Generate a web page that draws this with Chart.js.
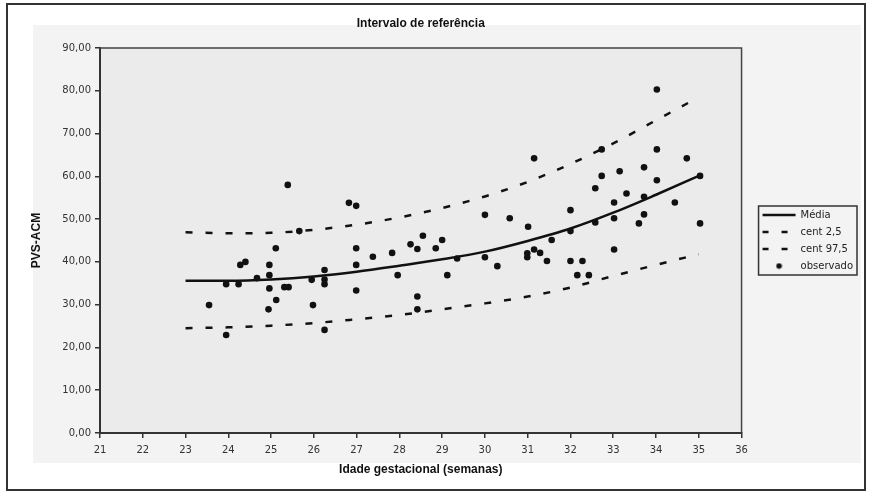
<!DOCTYPE html>
<html>
<head>
<meta charset="utf-8">
<script src="https://cdn.jsdelivr.net/npm/chart.js@4.4.1/dist/chart.umd.min.js"></script>
<style>
  html, body { margin: 0; padding: 0; background: #fff; }
  #wrap { position: absolute; left: 0; top: 0; width: 872px; height: 494px; }
</style>
</head>
<body>
<div id="wrap"><canvas id="chart" width="872" height="494"></canvas></div>
<script>
// curves (weeks 23..35)
const weeks = [23, 24, 25, 26, 27, 28, 29, 30, 31, 32, 33, 34, 35];
const media = [35.6, 35.6, 35.9, 36.6, 37.7, 39.1, 40.6, 42.4, 44.9, 47.8, 51.5, 55.7, 60.1];
const cent25 = [24.5, 24.7, 25.1, 25.7, 26.6, 27.6, 28.9, 30.3, 31.9, 34.0, 36.7, 39.3, 41.8];
const cent975 = [46.9, 46.7, 46.8, 47.5, 48.7, 50.4, 52.6, 55.3, 58.7, 62.9, 67.7, 73.1, 78.5];

// observed points
const obsWeeks = [23.55, 23.95, 23.95, 24.24, 24.28, 24.40, 24.67, 24.96, 24.96, 24.96,
  25.12, 24.94, 25.11, 25.31, 25.41, 25.39, 25.98, 26.25, 26.25, 26.25,
  26.25, 26.82, 26.99, 26.99, 26.99, 26.99, 27.38, 27.83, 27.96, 28.26,
  28.42, 28.55, 28.85, 29.00, 29.12, 28.42, 28.42, 30.00, 30.29, 30.00,
  30.58, 31.15, 31.01, 31.56, 30.99, 30.99, 31.15, 31.29, 31.45, 32.00,
  32.00, 32.00, 32.28, 32.16, 32.43, 32.58, 32.58, 32.73, 32.73, 33.02,
  33.02, 33.02, 33.15, 33.31, 33.60, 33.72, 33.72, 33.72, 34.02, 34.02,
  34.02, 34.44, 34.72, 35.03, 35.03, 25.66, 25.95, 29.35];
const obsValues = [29.9, 22.9, 34.8, 34.8, 39.3, 40.0, 36.2, 39.3, 36.9, 33.8,
  31.1, 28.9, 43.2, 34.1, 34.1, 58.0, 29.9, 24.1, 38.1, 35.9,
  34.8, 53.8, 53.1, 43.2, 39.3, 33.3, 41.2, 42.1, 36.9, 44.1,
  43.0, 46.1, 43.2, 45.1, 36.9, 31.9, 28.9, 51.0, 39.0, 41.1,
  50.2, 64.2, 48.2, 45.1, 42.0, 41.1, 42.9, 42.1, 40.2, 52.1,
  47.2, 40.2, 40.2, 36.9, 36.9, 57.2, 49.2, 60.1, 66.3, 53.9,
  50.2, 42.9, 61.2, 56.0, 49.0, 62.1, 55.2, 51.1, 80.3, 66.3,
  59.1, 53.9, 64.2, 60.1, 49.0, 47.2, 35.8, 40.8];

const seriesNames = ['Média', 'cent 2,5', 'cent 97,5', 'observado'];

function xy(xs, ys) {
  return xs.map((x, i) => ({x: x, y: ys[i]}));
}

// small dot for the legend
const dot = document.createElement('canvas');
dot.width = 7; dot.height = 7;
const dctx = dot.getContext('2d');
dctx.fillStyle = '#111';
dctx.beginPath();
dctx.arc(3.5, 3.5, 2.8, 0, Math.PI * 2);
dctx.fill();

const frame = {
  id: 'frame',
  beforeDraw(chart) {
    const ctx = chart.ctx;
    const a = chart.chartArea;
    ctx.save();
    ctx.fillStyle = '#fff';
    ctx.fillRect(0, 0, chart.width, chart.height);
    ctx.fillStyle = '#f3f3f3';
    ctx.fillRect(33, 25, 828, 438);
    ctx.fillStyle = '#ebebeb';
    ctx.fillRect(a.left, a.top, a.right - a.left, a.bottom - a.top);
    ctx.restore();
  },
  afterDraw(chart) {
    const ctx = chart.ctx;
    const a = chart.chartArea;
    ctx.save();
    // top / right edge of the plot
    ctx.strokeStyle = '#444';
    ctx.lineWidth = 1.5;
    ctx.beginPath();
    ctx.moveTo(a.left, a.top);
    ctx.lineTo(a.right, a.top);
    ctx.lineTo(a.right, a.bottom);
    ctx.stroke();
    // legend box
    const hb = chart.legend.legendHitBoxes;
    if (hb && hb.length) {
      let l = Infinity, t = Infinity, r = -Infinity, b = -Infinity;
      hb.forEach(h => {
        l = Math.min(l, h.left); t = Math.min(t, h.top);
        r = Math.max(r, h.left + h.width); b = Math.max(b, h.top + h.height);
      });
      ctx.strokeStyle = '#333';
      ctx.lineWidth = 1.5;
      ctx.strokeRect(l - 4, t - 4, r - l + 8, b - t + 8);
    }
    // outer frame
    ctx.strokeStyle = '#333';
    ctx.lineWidth = 2;
    ctx.strokeRect(7, 4, 858, 486);
    ctx.restore();
  }
};

const ctx = document.getElementById('chart');
const myChart = new Chart(ctx, {
  type: 'scatter',
  plugins: [frame],
  data: {
    datasets: [
      {
        label: seriesNames[0],
        type: 'line',
        data: xy(weeks, media),
        borderColor: '#111',
        backgroundColor: '#111',
        borderWidth: 2.5,
        pointRadius: 0,
        tension: 0.4,
        cubicInterpolationMode: 'monotone'
      },
      {
        label: seriesNames[1],
        type: 'line',
        data: xy(weeks, cent25),
        borderColor: '#111',
        backgroundColor: '#111',
        borderWidth: 2.5,
        borderDash: [7, 13],
        pointRadius: 0,
        tension: 0.4,
        cubicInterpolationMode: 'monotone'
      },
      {
        label: seriesNames[2],
        type: 'line',
        data: xy(weeks, cent975),
        borderColor: '#111',
        backgroundColor: '#111',
        borderWidth: 2.5,
        borderDash: [7, 13],
        pointRadius: 0,
        tension: 0.4,
        cubicInterpolationMode: 'monotone'
      },
      {
        label: seriesNames[3],
        data: xy(obsWeeks, obsValues),
        borderColor: '#111',
        backgroundColor: '#111',
        pointRadius: 3.3,
        pointBorderWidth: 0,
        pointStyle: 'circle'
      }
    ]
  },
  options: {
    responsive: false,
    animation: false,
    layout: { padding: { left: 25, right: 9, top: 0, bottom: 13 } },
    plugins: {
      title: {
        display: true,
        text: 'Intervalo de referência',
        fullSize: false,
        color: '#111',
        font: { family: 'Liberation Sans', size: 12, weight: 'bold' },
        padding: { top: 16, bottom: 17.6 }
      },
      legend: {
        position: 'right',
        labels: {
          usePointStyle: true,
          pointStyleWidth: 33,
          padding: 7,
          color: '#222',
          font: { family: 'DejaVu Sans', size: 10 },
          generateLabels(chart) {
            const items = Chart.defaults.plugins.legend.labels.generateLabels(chart);
            items.forEach(it => {
              it.fillStyle = '#111';
              it.strokeStyle = '#111';
              if (it.datasetIndex === 3) {
                it.pointStyle = dot;
              } else {
                it.pointStyle = 'line';
                it.lineWidth = 2.5;
                it.lineDash = it.datasetIndex === 0 ? [] : [6, 13];
              }
            });
            return items;
          }
        }
      },
      tooltip: { enabled: false }
    },
    scales: {
      x: {
        type: 'linear',
        min: 21,
        max: 36,
        ticks: {
          stepSize: 1,
          padding: 6,
          color: '#333',
          font: { family: 'DejaVu Sans', size: 10 }
        },
        grid: { display: true, drawOnChartArea: false, drawTicks: true, tickLength: 5, color: '#333', lineWidth: 1.5 },
        border: { display: true, color: '#333', width: 2 },
        title: {
          display: true,
          text: 'Idade gestacional (semanas)',
          color: '#111',
          font: { family: 'Liberation Sans', size: 12, weight: 'bold' },
          padding: { top: 4, bottom: 4 }
        },
        afterFit(s) { s.height = 48; }
      },
      y: {
        type: 'linear',
        min: 0,
        max: 90,
        ticks: {
          stepSize: 10,
          padding: 4,
          color: '#333',
          font: { family: 'DejaVu Sans', size: 10 },
          callback: v => v.toFixed(2).replace('.', ',')
        },
        grid: { display: true, drawOnChartArea: false, drawTicks: true, tickLength: 5, color: '#333', lineWidth: 1.5 },
        border: { display: true, color: '#333', width: 2 },
        title: {
          display: true,
          text: 'PVS-ACM',
          color: '#111',
          font: { family: 'Liberation Sans', size: 12, weight: 'bold' },
          padding: { top: 4, bottom: 4 }
        },
        afterFit(s) { s.width = 75; }
      },
      gap: {
        type: 'linear',
        position: 'right',
        display: true,
        ticks: { display: false },
        grid: { display: false },
        border: { display: false },
        afterFit(s) { s.width = 14; }
      }
    }
  }
});
</script>
</body>
</html>
